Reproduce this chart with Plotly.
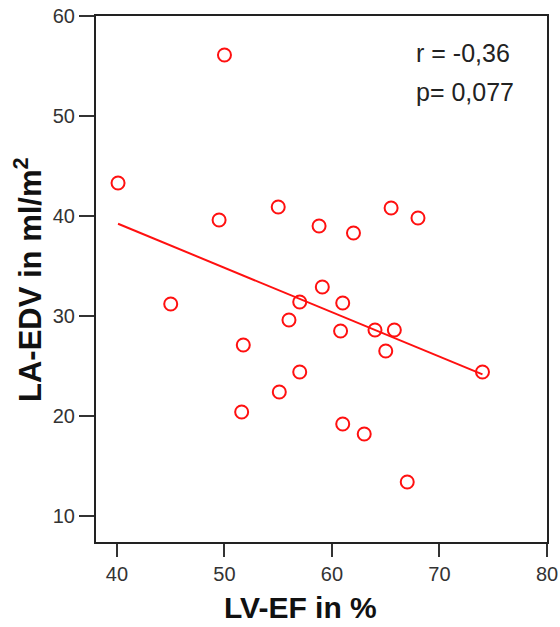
import numpy as np
import plotly.graph_objects as go

# Data
lv_ef = [50.0, 40.1, 49.5, 55.0, 58.8, 62.0, 65.5, 68.0, 45.0, 59.1, 57.0, 61.0, 56.0,
         51.75, 60.8, 64.0, 65.8, 65.0, 57.0, 74.0, 55.1, 51.6, 61.0, 63.0, 67.0]
la_edv = [56.1, 43.3, 39.6, 40.9, 39.0, 38.3, 40.8, 39.8, 31.2, 32.9, 31.4, 31.3, 29.6,
          27.1, 28.5, 28.6, 28.6, 26.5, 24.4, 24.4, 22.4, 20.4, 19.2, 18.2, 13.4]
x_ticks = [40, 50, 60, 70, 80]
y_ticks = [10, 20, 30, 40, 50, 60]
stat_lines = ["r = -0,36", "p= 0,077"]

W, H = 560, 627
L, R, T, B = 96, 13, 16, 85
pw, ph = W - L - R, H - T - B

def px(xp):
    return (xp - L) / pw

def py(yp):
    return (H - B - yp) / ph

# Linear regression fit line
slope, intercept = np.polyfit(lv_ef, la_edv, 1)
fx = np.array([min(lv_ef), max(lv_ef)])
fy = slope * fx + intercept

red = "#ff1010"
FONT = "Liberation Sans, Arial, sans-serif"
fig = go.Figure()
fig.add_trace(go.Scatter(x=fx, y=fy, mode="lines",
                         line=dict(color=red, width=2), hoverinfo="skip",
                         showlegend=False))
fig.add_trace(go.Scatter(x=lv_ef, y=la_edv, mode="markers",
                         marker=dict(symbol="circle-open", size=13, color=red,
                                     line=dict(color=red, width=2)),
                         showlegend=False))

axis_common = dict(showgrid=False, zeroline=False, showline=True, linecolor="#222222",
                   linewidth=2, mirror=True, ticks="outside", tickwidth=2,
                   tickcolor="#333333", automargin=False,
                   tickfont=dict(family=FONT, size=20, color="#333333"))

fig.update_xaxes(range=[38.05, 80], tickvals=x_ticks, ticklen=13, **axis_common)
fig.update_yaxes(range=[7.4, 60], tickvals=y_ticks, ticklen=15, **axis_common)

annots = []
for i, t in enumerate(stat_lines):
    annots.append(dict(text=t, xref="paper", yref="paper", x=px(414), y=py(53 + 39 * i),
                       xanchor="left", yanchor="middle", showarrow=False,
                       font=dict(family=FONT, size=25, color="#222222")))
annots.append(dict(text="<b>LV-EF in %</b>", xref="paper", yref="paper",
                   x=px(300), y=py(607), xanchor="center", yanchor="middle",
                   showarrow=False,
                   font=dict(family=FONT, size=30, color="#111111")))
annots.append(dict(text="<b>LA-EDV in ml/m<sup>2</sup></b>", xref="paper", yref="paper",
                   x=px(28), y=py(280), xanchor="center", yanchor="middle",
                   textangle=-90, showarrow=False,
                   font=dict(family=FONT, size=31, color="#111111")))

fig.update_layout(width=W, height=H, margin=dict(l=L, r=R, t=T, b=B, autoexpand=False),
                  paper_bgcolor="white", plot_bgcolor="white", annotations=annots)

fig.write_html("out.html")
